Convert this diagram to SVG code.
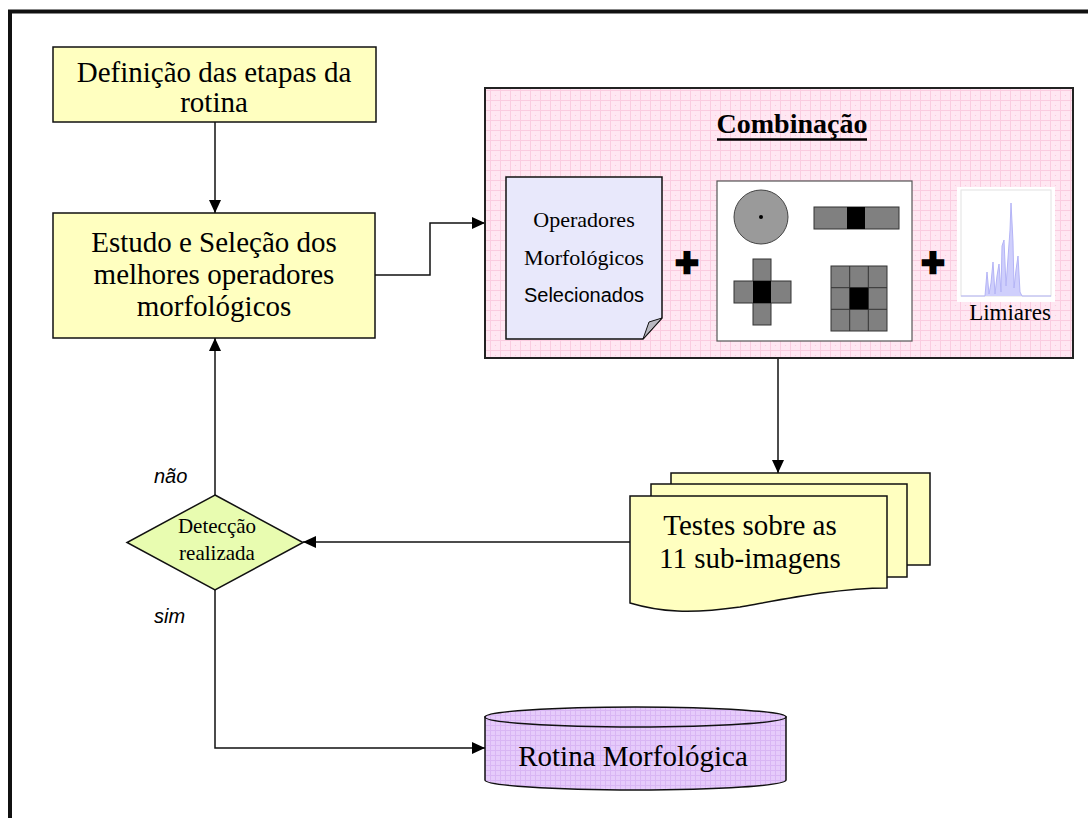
<svg xmlns="http://www.w3.org/2000/svg" width="1088" height="818" viewBox="0 0 1088 818">
  <style>
    .serif { font-family: "Liberation Serif", "Times New Roman", serif; fill: #000; }
    .sans { font-family: "Liberation Sans", Arial, sans-serif; fill: #000; }
    .proc { fill: #FFFFC0; stroke: #111; stroke-width: 1.5; }
    .wire { fill: none; stroke: #111; stroke-width: 1.5; }
    .se { fill: #808080; stroke: #333; stroke-width: 1; }
    .core { fill: #000; }
    .plus { font-family: "Liberation Sans", Arial, sans-serif; font-size: 40px; font-weight: bold; fill: #000; stroke: #000; stroke-width: 2.5; }
  </style>
  <defs>
    <marker id="arrow" markerUnits="userSpaceOnUse" markerWidth="14" markerHeight="12" refX="13" refY="6" orient="auto">
      <path d="M0,0 L13,6 L0,12 Z" fill="#000"/>
    </marker>
    <pattern id="pinkGrid" width="10" height="10" patternUnits="userSpaceOnUse">
      <rect width="10" height="10" fill="#FFE7F2"/>
      <path d="M0 0.5H10M0.5 0V10" stroke="#FACCE0" stroke-width="1"/>
      <circle cx="5.5" cy="5.5" r="0.6" fill="#F8C6DB"/>
    </pattern>
    <pattern id="lilacGrid" width="5" height="5" patternUnits="userSpaceOnUse">
      <rect width="5" height="5" fill="#E6CBFB"/>
      <path d="M0 0.5H5M0.5 0V5" stroke="#D9B6F4" stroke-width="1"/>
    </pattern>
  </defs>

  <!-- page frame -->
  <rect x="10" y="11.5" width="1100" height="830" fill="#fff" stroke="#111" stroke-width="4"/>

  <!-- connectors -->
  <g id="connectors">
    <path class="wire" d="M215,122 V213" marker-end="url(#arrow)"/>
    <path class="wire" d="M375,275 H430 V223 H485" marker-end="url(#arrow)"/>
    <path class="wire" d="M778,358 V473" marker-end="url(#arrow)"/>
    <path class="wire" d="M630,542 H303" marker-end="url(#arrow)"/>
    <path class="wire" d="M215,495 V338" marker-end="url(#arrow)"/>
    <path class="wire" d="M215,590 V748 H485" marker-end="url(#arrow)"/>
  </g>

  <!-- step definition -->
  <g id="definicao">
    <rect class="proc" x="53" y="47" width="323" height="75"/>
    <text class="serif" font-size="29" text-anchor="middle" x="214" y="82">Definição das etapas da</text>
    <text class="serif" font-size="29" text-anchor="middle" x="214" y="112">rotina</text>
  </g>

  <!-- operator study -->
  <g id="estudo">
    <rect class="proc" x="53" y="213" width="322" height="125"/>
    <text class="serif" font-size="29" text-anchor="middle" x="214" y="252">Estudo e Seleção dos</text>
    <text class="serif" font-size="29" text-anchor="middle" x="214" y="284">melhores operadores</text>
    <text class="serif" font-size="29" text-anchor="middle" x="214" y="316">morfológicos</text>
  </g>

  <!-- combination panel -->
  <g id="combinacao">
    <rect x="485" y="88" width="588" height="270" fill="url(#pinkGrid)" stroke="#222" stroke-width="2"/>
    <text class="serif" font-size="28" font-weight="bold" text-anchor="middle" x="792" y="133">Combinação</text>
    <line x1="717" y1="139.5" x2="867" y2="139.5" stroke="#000" stroke-width="2.5"/>

    <!-- selected operators sheet -->
    <g id="operadores">
      <path d="M506,177 H662 V318 L643,339 H506 Z" fill="#E8E8FB" stroke="#111" stroke-width="1.5"/>
      <path d="M662,318 L649,322 L643,339 Z" fill="#B8B8C0" stroke="#111" stroke-width="1"/>
      <text class="serif" font-size="22" text-anchor="middle" x="584" y="227">Operadores</text>
      <text class="serif" font-size="22" text-anchor="middle" x="584" y="265">Morfológicos</text>
      <text class="sans" font-size="20" text-anchor="middle" x="584" y="302">Selecionados</text>
    </g>

    <text class="plus" text-anchor="middle" x="687" y="276">+</text>

    <!-- structuring elements -->
    <g id="elementos">
      <rect x="717" y="181" width="195" height="160" fill="#fff" stroke="#555" stroke-width="1.2"/>
      <circle cx="761" cy="217" r="27" fill="#9A9A9A" stroke="#444" stroke-width="1"/>
      <circle cx="761" cy="217" r="2" fill="#000"/>
      <rect class="se" x="814" y="207" width="85" height="22"/>
      <rect class="core" x="847" y="207" width="18" height="22"/>
      <rect class="se" x="753" y="259" width="18" height="66"/>
      <rect class="se" x="734" y="281" width="57" height="22"/>
      <rect class="core" x="753" y="281" width="18" height="22"/>
      <rect class="se" x="831" y="266" width="56" height="65"/>
      <path d="M849.7,266 V331 M868.3,266 V331 M831,287.7 H887 M831,309.3 H887" stroke="#333" stroke-width="1"/>
      <rect class="core" x="849.7" y="287.7" width="18.6" height="21.6"/>
    </g>

    <text class="plus" text-anchor="middle" x="933" y="276">+</text>

    <!-- threshold histogram -->
    <g id="limiares">
      <rect x="957" y="187" width="98" height="115" fill="#fff"/>
      <rect x="961" y="190" width="90" height="106" fill="none" stroke="#E2E2E2" stroke-width="1"/>
      <path d="M961,296 H985 L987,272 L989,294 L991,283 L993,262 L995,294 L997,276 L999,264 L1001,292 L1002,246 L1004,240 L1006,286 L1008,258 L1010,230 L1011,203 L1013,242 L1014,288 L1016,270 L1018,256 L1020,292 L1022,296 H1051" fill="#CFCFFC" stroke="#B4B4F6" stroke-width="1"/>
      <text class="serif" font-size="23" text-anchor="middle" x="1010" y="320">Limiares</text>
    </g>
  </g>

  <!-- tests over the sub-images -->
  <g id="testes">
    <rect x="671" y="473" width="259" height="92" fill="#FFFFC0" stroke="#111" stroke-width="1.5"/>
    <rect x="651" y="484" width="256" height="93" fill="#FFFFC0" stroke="#111" stroke-width="1.5"/>
    <path d="M630,496 H887 V588 C840,588 790,598 740,607 C690,614 660,612 630,603 Z" fill="#FFFFC0" stroke="#111" stroke-width="1.5"/>
    <text class="serif" font-size="29" text-anchor="middle" x="750" y="535">Testes sobre as</text>
    <text class="serif" font-size="29" text-anchor="middle" x="750" y="568">11 sub-imagens</text>
  </g>

  <!-- decision -->
  <g id="deteccao">
    <path d="M215,495 L303,542.5 L215,590 L127,542.5 Z" fill="#E8FCB0" stroke="#111" stroke-width="1.5"/>
    <text class="serif" font-size="21" text-anchor="middle" x="217" y="533">Detecção</text>
    <text class="serif" font-size="21" text-anchor="middle" x="217" y="560">realizada</text>
  </g>
  <text class="sans" font-size="20" font-style="italic" x="154" y="483">não</text>
  <text class="sans" font-size="20" font-style="italic" x="154" y="623">sim</text>

  <!-- resulting routine -->
  <g id="rotina">
    <path d="M485,717 V780 A150.5,10 0 0 0 786,780 V717 Z" fill="url(#lilacGrid)" stroke="#111" stroke-width="1.5"/>
    <ellipse cx="635.5" cy="717" rx="150.5" ry="10" fill="url(#lilacGrid)" stroke="#111" stroke-width="1.5"/>
    <text class="serif" font-size="29" text-anchor="middle" x="633" y="766">Rotina Morfológica</text>
  </g>
</svg>
